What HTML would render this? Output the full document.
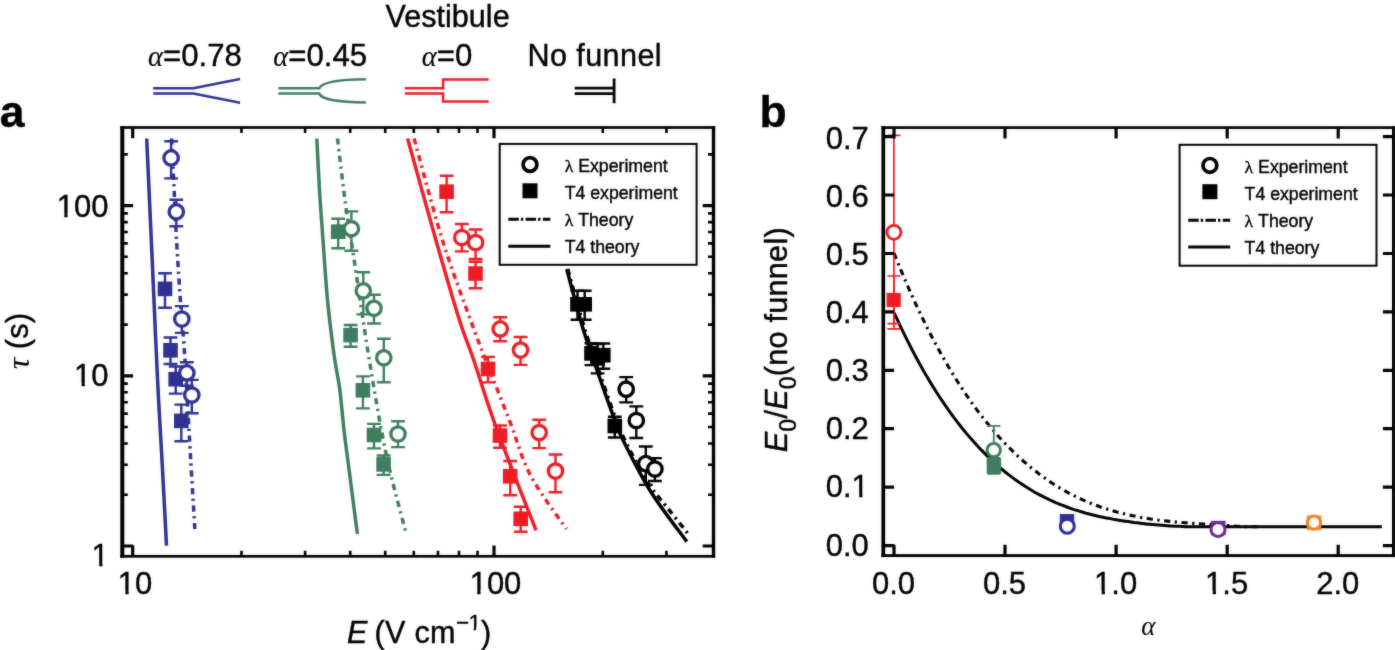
<!DOCTYPE html>
<html lang="en"><head><meta charset="utf-8"><title>Figure</title>
<style>html,body{margin:0;padding:0;background:#fff}body{width:1395px;height:650px;overflow:hidden}svg{display:block}text{white-space:pre}</style>
</head><body>
<svg width="1395" height="650" viewBox="0 0 1395 650" font-family="'Liberation Sans', Arial, Helvetica, sans-serif" fill="#000">
<defs><filter id="soft" x="0" y="0" width="100%" height="100%" filterUnits="userSpaceOnUse" color-interpolation-filters="sRGB"><feGaussianBlur stdDeviation="0.8" result="b"/><feComposite in="SourceGraphic" in2="b" operator="arithmetic" k1="0" k2="0.65" k3="0.35" k4="0"/></filter></defs>
<rect width="1395" height="650" fill="#fff"/>
<g filter="url(#soft)">
<text transform="translate(148.0,65.6) scale(1,1.0)" font-size="31.2" text-anchor="start" stroke="#000" stroke-width="0.4" ><tspan font-style="italic" font-family="'Liberation Serif', serif" font-size="28.5" stroke-width="0.15">α</tspan>=0.78</text>
<text transform="translate(273.2,65.6) scale(1,1.0)" font-size="31.2" text-anchor="start" stroke="#000" stroke-width="0.4" ><tspan font-style="italic" font-family="'Liberation Serif', serif" font-size="28.5" stroke-width="0.15">α</tspan>=0.45</text>
<text transform="translate(385.5,26.9) scale(1,1.0)" font-size="30.6" text-anchor="start" stroke="#000" stroke-width="0.4" >Vestibule</text>
<text transform="translate(421.8,65.6) scale(1,1.0)" font-size="31.2" text-anchor="start" stroke="#000" stroke-width="0.4" ><tspan font-style="italic" font-family="'Liberation Serif', serif" font-size="28.5" stroke-width="0.15">α</tspan>=0</text>
<text transform="translate(527.5,65.6) scale(1,1.0)" font-size="30.6" text-anchor="start" stroke="#000" stroke-width="0.4" letter-spacing="0.4">No funnel</text>
<path d="M153.2,88.2H193.4L240.1,79.1M153.2,93.6H193.4L240.1,102.7" fill="none" stroke="#2e3192" stroke-width="2.5"/>
<path d="M278.4,88.2H319.2C322,82.5 335,79.4 365.9,79.2M278.4,93.6H319.2C322,99.3 335,102.2 365.9,102.4" fill="none" stroke="#3f7d5f" stroke-width="2.5"/>
<path d="M404.8,88.2H443.1V79.6H488.7M404.8,93.6H443.1V101.6H488.7" fill="none" stroke="#ed1c24" stroke-width="2.5"/>
<path d="M574.7,88.2H614.1M574.7,93.6H614.1M614.1,78.5V103.2" fill="none" stroke="#000" stroke-width="2.8"/>
<text transform="translate(-0.3,126.8) scale(1,1.0)" font-size="44.5" text-anchor="start" stroke="#000" stroke-width="0.4" font-weight="bold">a</text>
<text transform="translate(759.6,126.8) scale(1,1.0)" font-size="44.5" text-anchor="start" stroke="#000" stroke-width="0.4" font-weight="bold">b</text>
<path d="M146.7,138.5 C147.5,155.4 149.8,207.2 151.3,240.0 C152.8,272.8 154.3,308.3 155.5,335.0 C156.7,361.7 157.5,379.2 158.6,400.0 C159.7,420.8 160.7,435.7 162.0,460.0 C163.3,484.3 165.8,531.4 166.5,545.7" fill="none" stroke="#2e3192" stroke-width="3.5"/>
<path d="M171.5,138.5 C171.9,146.2 173.1,168.3 173.9,184.6 C174.7,200.9 175.2,217.2 176.3,236.3 C177.4,255.4 178.9,278.4 180.3,299.0 C181.8,319.6 183.3,333.8 185.0,360.0 C186.7,386.2 188.8,427.4 190.5,456.3 C192.2,485.2 194.3,520.3 195.1,533.1" fill="none" stroke="#2e3192" stroke-width="3.5" stroke-dasharray="6.2 4.5 2.3 4.5"/>
<path d="M316.8,138.5 C317.2,147.1 318.5,173.1 319.5,190.0 C320.5,206.9 321.7,221.7 323.0,240.0 C324.3,258.3 325.8,281.7 327.5,300.0 C329.2,318.3 331.9,338.3 333.4,350.0 C334.9,361.7 335.4,363.3 336.5,370.0 C337.6,376.7 338.6,380.0 339.9,390.0 C341.1,400.0 342.5,416.7 344.0,430.0 C345.5,443.3 346.9,452.7 349.1,470.0 C351.3,487.3 356.0,523.3 357.4,534.0" fill="none" stroke="#3f7d5f" stroke-width="3.5"/>
<path d="M337.5,138.5 C338.8,149.2 342.8,184.2 345.4,203.0 C347.9,221.8 348.9,225.7 352.8,251.0 C356.7,276.3 363.0,321.3 368.5,355.0 C374.0,388.7 379.8,423.7 386.0,453.4 C392.2,483.1 402.7,519.8 406.0,533.1" fill="none" stroke="#3f7d5f" stroke-width="3.5" stroke-dasharray="6.2 4.5 2.3 4.5"/>
<path d="M407.6,138.5 C412.3,155.4 427.3,209.8 435.9,240.0 C444.5,270.2 453.1,300.0 459.4,320.0 C465.7,340.0 467.7,342.4 473.7,360.0 C479.7,377.6 485.0,396.9 495.4,425.3 C505.8,453.7 529.2,512.9 536.0,530.4" fill="none" stroke="#ed1c24" stroke-width="3.5"/>
<path d="M414.1,138.5 C418.8,155.4 433.0,209.8 442.4,240.0 C451.8,270.2 463.3,300.0 470.5,320.0 C477.7,340.0 479.2,343.3 485.7,360.0 C492.2,376.7 501.8,400.8 509.3,420.0 C516.8,439.2 521.0,457.2 530.5,475.4 C540.0,493.6 560.5,520.1 566.5,529.0" fill="none" stroke="#ed1c24" stroke-width="3.5" stroke-dasharray="6.2 4.5 2.3 4.5"/>
<path d="M566.7,269.0 C568.1,274.2 572.2,289.8 575.0,300.0 C577.8,310.2 579.6,317.8 583.4,330.0 C587.2,342.2 592.9,358.3 598.0,373.0 C603.1,387.7 609.8,406.8 614.0,418.0 C618.2,429.2 616.9,427.7 623.0,440.0 C629.1,452.3 640.2,474.8 650.8,491.7 C661.4,508.6 680.8,533.3 686.8,541.6" fill="none" stroke="#000" stroke-width="3.5"/>
<path d="M567.7,269.0 C569.1,274.2 573.4,289.8 576.3,300.0 C579.2,310.2 581.1,317.8 585.0,330.0 C588.9,342.2 594.5,358.3 599.6,373.0 C604.7,387.7 611.3,406.8 615.5,418.0 C619.7,429.2 619.7,429.7 624.8,440.0 C629.9,450.3 640.6,470.8 646.0,480.0 C651.4,489.2 653.1,490.0 657.0,495.0 C660.9,500.0 664.0,503.6 669.3,510.2 C674.6,516.8 685.5,530.5 688.7,534.6" fill="none" stroke="#000" stroke-width="3.5" stroke-dasharray="6.2 4.5 2.3 4.5"/>
<path d="M165.0,273.2V307.8M158.1,273.2H171.9M158.1,307.8H171.9" fill="none" stroke="#2e3192" stroke-width="2.4"/>
<rect x="157.7" y="281.6" width="14.6" height="14.6" fill="#2e3192"/>
<path d="M170.5,337.5V364.0M163.6,337.5H177.4M163.6,364.0H177.4" fill="none" stroke="#2e3192" stroke-width="2.4"/>
<rect x="163.2" y="343.0" width="14.6" height="14.6" fill="#2e3192"/>
<path d="M175.7,366.5V393.6M168.8,366.5H182.6M168.8,393.6H182.6" fill="none" stroke="#2e3192" stroke-width="2.4"/>
<rect x="168.4" y="371.9" width="14.6" height="14.6" fill="#2e3192"/>
<path d="M181.3,404.6V441.2M174.4,404.6H188.2M174.4,441.2H188.2" fill="none" stroke="#2e3192" stroke-width="2.4"/>
<rect x="174.0" y="413.6" width="14.6" height="14.6" fill="#2e3192"/>
<path d="M171.1,141.2V178.4M164.2,141.2H178.0M164.2,178.4H178.0" fill="none" stroke="#2e3192" stroke-width="2.4"/>
<circle cx="171.1" cy="157.9" r="7.2" fill="#fff" stroke="#2e3192" stroke-width="3.3"/>
<path d="M176.3,199.8V226.2M169.4,199.8H183.2M169.4,226.2H183.2" fill="none" stroke="#2e3192" stroke-width="2.4"/>
<circle cx="176.3" cy="211.8" r="7.2" fill="#fff" stroke="#2e3192" stroke-width="3.3"/>
<path d="M181.8,306.1V332.9M174.9,306.1H188.7M174.9,332.9H188.7" fill="none" stroke="#2e3192" stroke-width="2.4"/>
<circle cx="181.8" cy="319.0" r="7.2" fill="#fff" stroke="#2e3192" stroke-width="3.3"/>
<path d="M186.8,362.2V385.8M179.9,362.2H193.7M179.9,385.8H193.7" fill="none" stroke="#2e3192" stroke-width="2.4"/>
<circle cx="186.8" cy="372.9" r="7.2" fill="#fff" stroke="#2e3192" stroke-width="3.3"/>
<path d="M191.8,379.9V413.3M184.9,379.9H198.7M184.9,413.3H198.7" fill="none" stroke="#2e3192" stroke-width="2.4"/>
<circle cx="191.8" cy="395.0" r="7.2" fill="#fff" stroke="#2e3192" stroke-width="3.3"/>
<path d="M338.2,218.8V248.3M331.3,218.8H345.1M331.3,248.3H345.1" fill="none" stroke="#3f7d5f" stroke-width="2.4"/>
<rect x="330.9" y="224.4" width="14.6" height="14.6" fill="#3f7d5f"/>
<path d="M350.6,325.0V346.7M343.7,325.0H357.5M343.7,346.7H357.5" fill="none" stroke="#3f7d5f" stroke-width="2.4"/>
<rect x="343.3" y="327.8" width="14.6" height="14.6" fill="#3f7d5f"/>
<path d="M362.9,376.4V408.4M356.0,376.4H369.8M356.0,408.4H369.8" fill="none" stroke="#3f7d5f" stroke-width="2.4"/>
<rect x="355.6" y="383.0" width="14.6" height="14.6" fill="#3f7d5f"/>
<path d="M374.0,423.9V448.4M367.1,423.9H380.9M367.1,448.4H380.9" fill="none" stroke="#3f7d5f" stroke-width="2.4"/>
<rect x="366.7" y="427.7" width="14.6" height="14.6" fill="#3f7d5f"/>
<path d="M383.6,455.5V474.9M376.7,455.5H390.5M376.7,474.9H390.5" fill="none" stroke="#3f7d5f" stroke-width="2.4"/>
<rect x="376.3" y="457.1" width="14.6" height="14.6" fill="#3f7d5f"/>
<path d="M351.4,211.4V250.7M344.5,211.4H358.3M344.5,250.7H358.3" fill="none" stroke="#3f7d5f" stroke-width="2.4"/>
<circle cx="351.4" cy="228.7" r="7.2" fill="#fff" stroke="#3f7d5f" stroke-width="3.3"/>
<path d="M363.3,272.3V314.4M356.4,272.3H370.2M356.4,314.4H370.2" fill="none" stroke="#3f7d5f" stroke-width="2.4"/>
<circle cx="363.3" cy="290.8" r="7.2" fill="#fff" stroke="#3f7d5f" stroke-width="3.3"/>
<path d="M374.0,294.8V323.5M367.1,294.8H380.9M367.1,323.5H380.9" fill="none" stroke="#3f7d5f" stroke-width="2.4"/>
<circle cx="374.0" cy="308.3" r="7.2" fill="#fff" stroke="#3f7d5f" stroke-width="3.3"/>
<path d="M383.8,338.8V382.3M376.9,338.8H390.7M376.9,382.3H390.7" fill="none" stroke="#3f7d5f" stroke-width="2.4"/>
<circle cx="383.8" cy="357.8" r="7.2" fill="#fff" stroke="#3f7d5f" stroke-width="3.3"/>
<path d="M398.0,421.3V447.1M391.1,421.3H404.9M391.1,447.1H404.9" fill="none" stroke="#3f7d5f" stroke-width="2.4"/>
<circle cx="398.0" cy="434.0" r="7.2" fill="#fff" stroke="#3f7d5f" stroke-width="3.3"/>
<path d="M446.6,175.8V212.3M439.7,175.8H453.5M439.7,212.3H453.5" fill="none" stroke="#ed1c24" stroke-width="2.4"/>
<rect x="439.3" y="184.4" width="14.6" height="14.6" fill="#ed1c24"/>
<path d="M475.5,261.7V288.3M468.6,261.7H482.4M468.6,288.3H482.4" fill="none" stroke="#ed1c24" stroke-width="2.4"/>
<rect x="468.2" y="266.2" width="14.6" height="14.6" fill="#ed1c24"/>
<path d="M488.0,356.9V382.4M481.1,356.9H494.9M481.1,382.4H494.9" fill="none" stroke="#ed1c24" stroke-width="2.4"/>
<rect x="480.7" y="361.6" width="14.6" height="14.6" fill="#ed1c24"/>
<path d="M500.0,425.5V447.7M493.1,425.5H506.9M493.1,447.7H506.9" fill="none" stroke="#ed1c24" stroke-width="2.4"/>
<rect x="492.7" y="428.3" width="14.6" height="14.6" fill="#ed1c24"/>
<path d="M510.2,461.0V495.3M503.3,461.0H517.1M503.3,495.3H517.1" fill="none" stroke="#ed1c24" stroke-width="2.4"/>
<rect x="502.9" y="469.0" width="14.6" height="14.6" fill="#ed1c24"/>
<path d="M520.7,506.8V531.7M513.8,506.8H527.6M513.8,531.7H527.6" fill="none" stroke="#ed1c24" stroke-width="2.4"/>
<rect x="513.4" y="511.5" width="14.6" height="14.6" fill="#ed1c24"/>
<path d="M461.8,224.0V251.4M454.9,224.0H468.7M454.9,251.4H468.7" fill="none" stroke="#ed1c24" stroke-width="2.4"/>
<circle cx="461.8" cy="237.5" r="7.2" fill="#fff" stroke="#ed1c24" stroke-width="3.3"/>
<path d="M475.6,229.5V259.0M468.7,229.5H482.5M468.7,259.0H482.5" fill="none" stroke="#ed1c24" stroke-width="2.4"/>
<circle cx="475.6" cy="242.5" r="7.2" fill="#fff" stroke="#ed1c24" stroke-width="3.3"/>
<path d="M500.2,317.3V341.2M493.3,317.3H507.1M493.3,341.2H507.1" fill="none" stroke="#ed1c24" stroke-width="2.4"/>
<circle cx="500.2" cy="328.9" r="7.2" fill="#fff" stroke="#ed1c24" stroke-width="3.3"/>
<path d="M520.5,337.0V364.9M513.6,337.0H527.4M513.6,364.9H527.4" fill="none" stroke="#ed1c24" stroke-width="2.4"/>
<circle cx="520.5" cy="350.1" r="7.2" fill="#fff" stroke="#ed1c24" stroke-width="3.3"/>
<path d="M539.2,419.7V448.1M532.3,419.7H546.1M532.3,448.1H546.1" fill="none" stroke="#ed1c24" stroke-width="2.4"/>
<circle cx="539.2" cy="432.5" r="7.2" fill="#fff" stroke="#ed1c24" stroke-width="3.3"/>
<path d="M555.5,454.5V492.2M548.6,454.5H562.4M548.6,492.2H562.4" fill="none" stroke="#ed1c24" stroke-width="2.4"/>
<circle cx="555.5" cy="471.1" r="7.2" fill="#fff" stroke="#ed1c24" stroke-width="3.3"/>
<path d="M577.5,290.8V319.8M570.6,290.8H584.4M570.6,319.8H584.4" fill="none" stroke="#000" stroke-width="2.4"/>
<rect x="570.2" y="297.0" width="14.6" height="14.6" fill="#000"/>
<path d="M584.7,290.8V319.8M577.8,290.8H591.6M577.8,319.8H591.6" fill="none" stroke="#000" stroke-width="2.4"/>
<rect x="577.4" y="297.0" width="14.6" height="14.6" fill="#000"/>
<path d="M591.5,343.3V365.1M584.6,343.3H598.4M584.6,365.1H598.4" fill="none" stroke="#000" stroke-width="2.4"/>
<rect x="584.2" y="346.1" width="14.6" height="14.6" fill="#000"/>
<path d="M597.6,344.0V373.4M590.7,344.0H604.5M590.7,373.4H604.5" fill="none" stroke="#000" stroke-width="2.4"/>
<rect x="590.3" y="351.0" width="14.6" height="14.6" fill="#000"/>
<path d="M603.3,343.5V368.8M596.4,343.5H610.2M596.4,368.8H610.2" fill="none" stroke="#000" stroke-width="2.4"/>
<rect x="596.0" y="347.9" width="14.6" height="14.6" fill="#000"/>
<path d="M614.8,416.8V437.5M607.9,416.8H621.7M607.9,437.5H621.7" fill="none" stroke="#000" stroke-width="2.4"/>
<rect x="607.5" y="418.7" width="14.6" height="14.6" fill="#000"/>
<path d="M626.2,377.1V402.4M619.3,377.1H633.1M619.3,402.4H633.1" fill="none" stroke="#000" stroke-width="2.4"/>
<circle cx="626.2" cy="389.2" r="7.2" fill="#fff" stroke="#000" stroke-width="3.3"/>
<path d="M636.3,406.4V438.0M629.4,406.4H643.2M629.4,438.0H643.2" fill="none" stroke="#000" stroke-width="2.4"/>
<circle cx="636.3" cy="420.5" r="7.2" fill="#fff" stroke="#000" stroke-width="3.3"/>
<path d="M645.8,446.5V484.9M638.9,446.5H652.7M638.9,484.9H652.7" fill="none" stroke="#000" stroke-width="2.4"/>
<circle cx="645.8" cy="463.6" r="7.2" fill="#fff" stroke="#000" stroke-width="3.3"/>
<path d="M654.9,458.1V481.0M648.0,458.1H661.8M648.0,481.0H661.8" fill="none" stroke="#000" stroke-width="2.4"/>
<circle cx="654.9" cy="469.0" r="7.2" fill="#fff" stroke="#000" stroke-width="3.3"/>
<path d="M132.7,127.5v10.8M132.7,556.3v-10.8M494.0,127.5v10.8M494.0,556.3v-10.8M122.3,546.0h10.8M713.5,546.0h-10.8M122.3,375.8h10.8M713.5,375.8h-10.8M122.3,205.6h10.8M713.5,205.6h-10.8" fill="none" stroke="#000" stroke-width="3.2"/>
<path d="M241.5,127.5v5.5M241.5,556.3v-5.5M305.1,127.5v5.5M305.1,556.3v-5.5M350.2,127.5v5.5M350.2,556.3v-5.5M385.2,127.5v5.5M385.2,556.3v-5.5M413.8,127.5v5.5M413.8,556.3v-5.5M438.0,127.5v5.5M438.0,556.3v-5.5M459.0,127.5v5.5M459.0,556.3v-5.5M477.5,127.5v5.5M477.5,556.3v-5.5M602.8,127.5v5.5M602.8,556.3v-5.5M666.4,127.5v5.5M666.4,556.3v-5.5M122.3,494.8h5.5M713.5,494.8h-5.5M122.3,464.8h5.5M713.5,464.8h-5.5M122.3,443.5h5.5M713.5,443.5h-5.5M122.3,427.0h5.5M713.5,427.0h-5.5M122.3,413.6h5.5M713.5,413.6h-5.5M122.3,402.2h5.5M713.5,402.2h-5.5M122.3,392.3h5.5M713.5,392.3h-5.5M122.3,383.6h5.5M713.5,383.6h-5.5M122.3,324.6h5.5M713.5,324.6h-5.5M122.3,294.6h5.5M713.5,294.6h-5.5M122.3,273.3h5.5M713.5,273.3h-5.5M122.3,256.8h5.5M713.5,256.8h-5.5M122.3,243.4h5.5M713.5,243.4h-5.5M122.3,232.0h5.5M713.5,232.0h-5.5M122.3,222.1h5.5M713.5,222.1h-5.5M122.3,213.4h5.5M713.5,213.4h-5.5M122.3,154.4h5.5M713.5,154.4h-5.5" fill="none" stroke="#000" stroke-width="2.6"/>
<rect x="120.30" y="126.15" width="4.0" height="431.50" fill="#000"/>
<rect x="711.80" y="126.15" width="3.4" height="431.50" fill="#000"/>
<rect x="120.30" y="126.15" width="594.90" height="2.7" fill="#000"/>
<rect x="120.30" y="554.95" width="594.90" height="2.7" fill="#000"/>
<rect x="499.7" y="143.9" width="196.9" height="120.9" fill="#fff" stroke="#000" stroke-width="2"/>
<circle cx="530.0" cy="164.5" r="6.9" fill="#fff" stroke="#000" stroke-width="3.7"/>
<rect x="522.5" y="183.3" width="15.0" height="15.0" fill="#000"/>
<path d="M508.3,219.3h42" stroke="#000" stroke-width="3" stroke-dasharray="10.5 2 2.4 2.4" fill="none"/>
<path d="M508.3,246.2h42" stroke="#000" stroke-width="3" fill="none"/>
<text transform="translate(564.7,171.70000000000002) scale(1,1.0)" font-size="17.7" text-anchor="start" stroke="#000" stroke-width="0.4" ><tspan font-family="'Liberation Serif', serif">λ</tspan> Experiment</text>
<text transform="translate(564.7,198.9) scale(1,1.0)" font-size="17.7" text-anchor="start" stroke="#000" stroke-width="0.4" >T4 experiment</text>
<text transform="translate(564.7,226.3) scale(1,1.0)" font-size="17.7" text-anchor="start" stroke="#000" stroke-width="0.4" ><tspan font-family="'Liberation Serif', serif">λ</tspan> Theory</text>
<text transform="translate(564.7,253.10000000000002) scale(1,1.0)" font-size="17.7" text-anchor="start" stroke="#000" stroke-width="0.4" >T4 theory</text>
<text transform="translate(56.68,216.7) scale(1,1.0)" font-size="31" text-anchor="start" stroke="#000" stroke-width="0.4" >100</text>
<path d="M57.88,213.40H64.30V218.90H57.88ZM67.58,213.40H74.18V218.90H67.58Z" fill="#fff"/>
<text transform="translate(73.92,386.4) scale(1,1.0)" font-size="31" text-anchor="start" stroke="#000" stroke-width="0.4" >10</text>
<path d="M75.12,383.10H81.54V388.60H75.12ZM84.82,383.10H91.42V388.60H84.82Z" fill="#fff"/>
<text transform="translate(91.56,565.8) scale(1,1.0)" font-size="31" text-anchor="start" stroke="#000" stroke-width="0.4" >1</text>
<path d="M92.76,562.50H99.18V568.00H92.76ZM102.46,562.50H109.06V568.00H102.46Z" fill="#fff"/>
<text transform="translate(117.76,594.1) scale(1,1.0)" font-size="31" text-anchor="start" stroke="#000" stroke-width="0.4" >10</text>
<path d="M118.96,590.80H125.38V596.30H118.96ZM128.66,590.80H135.26V596.30H128.66Z" fill="#fff"/>
<text transform="translate(469.64,594.1) scale(1,1.0)" font-size="31" text-anchor="start" stroke="#000" stroke-width="0.4" >100</text>
<path d="M470.84,590.80H477.26V596.30H470.84ZM480.54,590.80H487.14V596.30H480.54Z" fill="#fff"/>
<text transform="translate(347.0,643.0) scale(1,1.0)" font-size="30.6" text-anchor="start" stroke="#000" stroke-width="0.4" ><tspan font-style="italic">E</tspan><tspan dx="-1.7" letter-spacing="0.3"> (V cm</tspan><tspan font-size="22.5" dy="-13.2" letter-spacing="-0.6">−1</tspan><tspan dy="13.2" dx="0.75">)</tspan></text>
<path d="M469.01,627.40H473.67V631.40H469.01ZM476.05,627.40H480.84V631.40H476.05Z" fill="#fff"/>
<text transform="translate(27.5,369.2) rotate(-90) scale(1,1.0)" font-size="31" text-anchor="start" stroke="#000" stroke-width="0.4" ><tspan font-style="italic" font-family="'Liberation Serif', serif" stroke-width="0" font-size="32" dy="1.2">τ</tspan><tspan dy="-1.2"> (s)</tspan></text>
<path d="M894.2,312.8 C895.2,314.9 898.2,321.5 900.2,325.8 C902.2,330.0 904.2,334.1 906.2,338.2 C908.2,342.2 910.2,346.1 912.2,350.0 C914.2,353.8 916.2,357.6 918.2,361.2 C920.2,364.9 922.2,368.4 924.2,371.9 C926.2,375.4 928.2,378.8 930.2,382.1 C932.2,385.4 934.2,388.6 936.2,391.7 C938.2,394.9 940.2,397.9 942.2,400.9 C944.2,403.9 946.2,406.8 948.2,409.6 C950.2,412.4 952.2,415.2 954.2,417.9 C956.2,420.6 958.2,423.2 960.2,425.7 C962.2,428.2 964.2,430.7 966.2,433.1 C968.2,435.5 970.2,437.8 972.2,440.1 C974.2,442.4 976.2,444.6 978.2,446.7 C980.2,448.9 982.2,450.9 984.2,452.9 C986.2,455.0 988.2,456.9 990.2,458.8 C992.2,460.7 994.2,462.5 996.2,464.3 C998.2,466.1 1000.2,467.8 1002.2,469.5 C1004.2,471.2 1006.2,472.8 1008.2,474.4 C1010.2,475.9 1012.2,477.4 1014.2,478.9 C1016.2,480.3 1018.2,481.8 1020.2,483.1 C1022.2,484.5 1024.2,485.8 1026.2,487.0 C1028.2,488.3 1030.2,489.5 1032.2,490.7 C1034.2,491.9 1036.2,493.0 1038.2,494.1 C1040.2,495.2 1042.2,496.2 1044.2,497.2 C1046.2,498.2 1048.2,499.2 1050.2,500.1 C1052.2,501.0 1054.2,501.9 1056.2,502.8 C1058.2,503.6 1060.2,504.5 1062.2,505.2 C1064.2,506.0 1066.2,506.8 1068.2,507.5 C1070.2,508.2 1072.2,508.9 1074.2,509.6 C1076.2,510.2 1078.2,510.8 1080.2,511.4 C1082.2,512.0 1084.2,512.6 1086.2,513.2 C1088.2,513.7 1090.2,514.2 1092.2,514.7 C1094.2,515.2 1096.2,515.7 1098.2,516.2 C1100.2,516.6 1102.2,517.0 1104.2,517.5 C1106.2,517.9 1108.2,518.3 1110.2,518.6 C1112.2,519.0 1114.2,519.4 1116.2,519.7 C1118.2,520.1 1120.2,520.4 1122.2,520.7 C1124.2,521.1 1126.2,521.4 1128.2,521.6 C1130.2,521.9 1132.2,522.2 1134.2,522.5 C1136.2,522.7 1138.2,523.0 1140.2,523.2 C1142.2,523.5 1144.2,523.7 1146.2,523.9 C1148.2,524.1 1150.2,524.3 1152.2,524.5 C1154.2,524.7 1156.2,524.9 1158.2,525.0 C1160.2,525.2 1162.2,525.4 1164.2,525.5 C1166.2,525.6 1168.2,525.8 1170.2,525.9 C1172.2,526.0 1174.2,526.1 1176.2,526.2 C1178.2,526.3 1180.2,526.4 1182.2,526.5 C1184.2,526.6 1186.2,526.7 1188.2,526.8 C1190.2,526.8 1192.2,526.8 1194.2,526.8 C1196.2,526.8 1198.2,526.8 1200.2,526.8 C1202.2,526.8 1204.2,526.8 1206.2,526.8 C1208.2,526.8 1210.2,526.8 1212.2,526.8 C1214.2,526.8 1216.2,526.8 1218.2,526.8 C1220.2,526.8 1222.2,526.8 1224.2,526.8 C1226.2,526.8 1228.2,526.8 1230.2,526.8 C1232.2,526.8 1234.2,526.8 1236.2,526.8 C1238.2,526.8 1240.2,526.8 1242.2,526.8 C1244.2,526.8 1246.2,526.8 1248.2,526.8 C1250.2,526.8 1252.2,526.8 1254.2,526.8 C1256.2,526.8 1258.2,526.8 1260.2,526.8 C1262.2,526.8 1264.2,526.8 1266.2,526.8 C1268.2,526.8 1270.2,526.8 1272.2,526.8 C1274.2,526.8 1276.2,526.8 1278.2,526.8 C1280.2,526.8 1282.2,526.8 1284.2,526.8 C1286.2,526.8 1288.2,526.8 1290.2,526.8 C1292.2,526.8 1294.2,526.8 1296.2,526.8 C1298.2,526.8 1300.2,526.8 1302.2,526.8 C1304.2,526.8 1306.2,526.8 1308.2,526.8 C1310.2,526.8 1312.2,526.8 1314.2,526.8 C1316.2,526.8 1318.2,526.8 1320.2,526.8 C1322.2,526.8 1324.2,526.8 1326.2,526.8 C1328.2,526.8 1330.2,526.8 1332.2,526.8 C1334.2,526.8 1336.2,526.8 1338.2,526.8 C1340.2,526.8 1342.2,526.8 1344.2,526.8 C1346.2,526.8 1348.2,526.8 1350.2,526.8 C1352.2,526.8 1354.2,526.8 1356.2,526.8 C1358.2,526.8 1360.2,526.8 1362.2,526.8 C1364.2,526.8 1366.2,526.8 1368.2,526.8 C1370.2,526.8 1372.2,526.8 1374.2,526.8 C1376.2,526.8 1378.9,526.8 1380.2,526.8 C1381.5,526.8 1381.6,526.8 1381.9,526.8" fill="none" stroke="#000" stroke-width="3.0"/>
<path d="M894.0,253.2 C895.0,255.7 898.0,263.2 900.0,268.0 C902.0,272.8 904.0,277.5 906.0,282.1 C908.0,286.8 910.0,291.3 912.0,295.7 C914.0,300.2 916.0,304.5 918.0,308.8 C920.0,313.0 922.0,317.2 924.0,321.2 C926.0,325.3 928.0,329.3 930.0,333.2 C932.0,337.1 934.0,340.9 936.0,344.6 C938.0,348.3 940.0,352.0 942.0,355.5 C944.0,359.1 946.0,362.6 948.0,366.0 C950.0,369.4 952.0,372.7 954.0,375.9 C956.0,379.2 958.0,382.3 960.0,385.4 C962.0,388.5 964.0,391.5 966.0,394.5 C968.0,397.4 970.0,400.3 972.0,403.1 C974.0,405.9 976.0,408.6 978.0,411.3 C980.0,413.9 982.0,416.5 984.0,419.1 C986.0,421.6 988.0,424.1 990.0,426.5 C992.0,428.9 994.0,431.2 996.0,433.5 C998.0,435.8 1000.0,438.0 1002.0,440.2 C1004.0,442.3 1006.0,444.4 1008.0,446.5 C1010.0,448.5 1012.0,450.5 1014.0,452.4 C1016.0,454.4 1018.0,456.3 1020.0,458.1 C1022.0,459.9 1024.0,461.7 1026.0,463.4 C1028.0,465.1 1030.0,466.8 1032.0,468.4 C1034.0,470.1 1036.0,471.6 1038.0,473.1 C1040.0,474.7 1042.0,476.2 1044.0,477.6 C1046.0,479.0 1048.0,480.4 1050.0,481.7 C1052.0,483.1 1054.0,484.4 1056.0,485.6 C1058.0,486.9 1060.0,488.1 1062.0,489.2 C1064.0,490.4 1066.0,491.5 1068.0,492.6 C1070.0,493.7 1072.0,494.7 1074.0,495.7 C1076.0,496.7 1078.0,497.7 1080.0,498.6 C1082.0,499.6 1084.0,500.4 1086.0,501.3 C1088.0,502.2 1090.0,503.0 1092.0,503.8 C1094.0,504.6 1096.0,505.3 1098.0,506.0 C1100.0,506.8 1102.0,507.5 1104.0,508.1 C1106.0,508.8 1108.0,509.4 1110.0,510.0 C1112.0,510.6 1114.0,511.2 1116.0,511.8 C1118.0,512.3 1120.0,512.8 1122.0,513.3 C1124.0,513.8 1126.0,514.3 1128.0,514.8 C1130.0,515.2 1132.0,515.6 1134.0,516.0 C1136.0,516.4 1138.0,516.8 1140.0,517.2 C1142.0,517.6 1144.0,517.9 1146.0,518.2 C1148.0,518.6 1150.0,518.9 1152.0,519.2 C1154.0,519.5 1156.0,519.7 1158.0,520.0 C1160.0,520.2 1162.0,520.5 1164.0,520.7 C1166.0,521.0 1168.0,521.2 1170.0,521.4 C1172.0,521.6 1174.0,521.8 1176.0,522.0 C1178.0,522.1 1180.0,522.3 1182.0,522.5 C1184.0,522.7 1186.0,522.8 1188.0,523.0 C1190.0,523.1 1192.0,523.3 1194.0,523.4 C1196.0,523.5 1198.0,523.7 1200.0,523.8 C1202.0,523.9 1204.0,524.1 1206.0,524.2 C1208.0,524.3 1210.0,524.4 1212.0,524.6 C1214.0,524.7 1216.0,524.8 1218.0,524.9 C1220.0,525.1 1222.0,525.2 1224.0,525.3 C1226.0,525.5 1228.0,525.6 1230.0,525.7 C1232.0,525.9 1234.0,526.0 1236.0,526.2 C1238.0,526.3 1240.0,526.6 1242.0,526.6 C1244.0,526.7 1246.0,526.7 1248.0,526.8 C1250.0,526.8 1252.3,526.8 1254.0,526.8 C1255.7,526.8 1257.3,526.8 1258.0,526.8" fill="none" stroke="#000" stroke-width="3.1" stroke-dasharray="6.2 4.5 2.3 4.5"/>
<path d="M893.9,135.4V328.8M887.4,135.4H900.4M887.4,328.8H900.4" fill="none" stroke="#ed1c24" stroke-width="1.7"/>
<path d="M893.9,276.0V323.6M887.4,276.0H900.4M887.4,323.6H900.4" fill="none" stroke="#ed1c24" stroke-width="1.7"/>
<rect x="886.6" y="292.9" width="14.2" height="14.2" fill="#ed1c24"/>
<circle cx="893.9" cy="232.3" r="7.0" fill="#fff" stroke="#ed1c24" stroke-width="2.8"/>
<path d="M993.8,425.8V470.0M987.2,425.8H1000.4M987.2,470.0H1000.4" fill="none" stroke="#3f7d5f" stroke-width="1.8"/>
<rect x="986.7" y="457" width="14.4" height="17.7" rx="2" fill="#3f7d5f"/>
<circle cx="993.8" cy="450.1" r="6.7" fill="#fff" stroke="#3f7d5f" stroke-width="2.9"/>
<rect x="1059.8" y="514.0" width="14.4" height="14.4" fill="#2e3192"/>
<circle cx="1067.3" cy="526.2" r="7.0" fill="#fff" stroke="#2e3192" stroke-width="3.1"/>
<rect x="1211.1" y="520.8" width="14.4" height="14.4" fill="#662d91"/>
<circle cx="1218.0" cy="529.4" r="7.0" fill="#fff" stroke="#662d91" stroke-width="3.0"/>
<rect x="1306.8" y="515.5" width="14.4" height="14.4" fill="#f5821f"/>
<circle cx="1314.0" cy="522.7" r="6.6" fill="#fff" stroke="#f5821f" stroke-width="3.0"/>
<path d="M894.0,127.6v10.8M894.0,555.6v-10.8M1005.0,127.6v10.8M1005.0,555.6v-10.8M1116.1,127.6v10.8M1116.1,555.6v-10.8M1227.2,127.6v10.8M1227.2,555.6v-10.8M1338.2,127.6v10.8M1338.2,555.6v-10.8M883.3,545.6h10.8M1393.7,545.6h-10.8M883.3,487.2h10.8M1393.7,487.2h-10.8M883.3,428.7h10.8M1393.7,428.7h-10.8M883.3,370.3h10.8M1393.7,370.3h-10.8M883.3,311.9h10.8M1393.7,311.9h-10.8M883.3,253.5h10.8M1393.7,253.5h-10.8M883.3,195.0h10.8M1393.7,195.0h-10.8M883.3,136.6h10.8M1393.7,136.6h-10.8" fill="none" stroke="#000" stroke-width="3.2"/>
<rect x="881.45" y="126.25" width="3.7" height="430.80" fill="#000"/>
<rect x="1392.00" y="126.25" width="3.4" height="430.80" fill="#000"/>
<rect x="881.45" y="126.25" width="513.95" height="2.7" fill="#000"/>
<rect x="881.45" y="554.15" width="513.95" height="2.9" fill="#000"/>
<rect x="1179.6" y="144.8" width="196.9" height="120.9" fill="#fff" stroke="#000" stroke-width="2"/>
<circle cx="1209.9" cy="165.4" r="6.9" fill="#fff" stroke="#000" stroke-width="3.7"/>
<rect x="1202.4" y="184.2" width="15.0" height="15.0" fill="#000"/>
<path d="M1188.1999999999998,220.20000000000002h42" stroke="#000" stroke-width="3" stroke-dasharray="10.5 2 2.4 2.4" fill="none"/>
<path d="M1188.1999999999998,247.10000000000002h42" stroke="#000" stroke-width="3" fill="none"/>
<text transform="translate(1244.6,172.60000000000002) scale(1,1.0)" font-size="17.7" text-anchor="start" stroke="#000" stroke-width="0.4" ><tspan font-family="'Liberation Serif', serif">λ</tspan> Experiment</text>
<text transform="translate(1244.6,199.8) scale(1,1.0)" font-size="17.7" text-anchor="start" stroke="#000" stroke-width="0.4" >T4 experiment</text>
<text transform="translate(1244.6,227.20000000000002) scale(1,1.0)" font-size="17.7" text-anchor="start" stroke="#000" stroke-width="0.4" ><tspan font-family="'Liberation Serif', serif">λ</tspan> Theory</text>
<text transform="translate(1244.6,254.0) scale(1,1.0)" font-size="17.7" text-anchor="start" stroke="#000" stroke-width="0.4" >T4 theory</text>
<text transform="translate(825.71,555.5) scale(1,1.0)" font-size="31" text-anchor="start" stroke="#000" stroke-width="0.4" >0.0</text>
<text transform="translate(825.71,497.40999999999997) scale(1,1.0)" font-size="31" text-anchor="start" stroke="#000" stroke-width="0.4" >0.1</text>
<path d="M852.76,494.11H859.18V499.61H852.76ZM862.46,494.11H869.06V499.61H862.46Z" fill="#fff"/>
<text transform="translate(825.71,439.32) scale(1,1.0)" font-size="31" text-anchor="start" stroke="#000" stroke-width="0.4" >0.2</text>
<text transform="translate(825.71,381.23) scale(1,1.0)" font-size="31" text-anchor="start" stroke="#000" stroke-width="0.4" >0.3</text>
<text transform="translate(825.71,323.14) scale(1,1.0)" font-size="31" text-anchor="start" stroke="#000" stroke-width="0.4" >0.4</text>
<text transform="translate(825.71,265.04999999999995) scale(1,1.0)" font-size="31" text-anchor="start" stroke="#000" stroke-width="0.4" >0.5</text>
<text transform="translate(825.71,206.95999999999998) scale(1,1.0)" font-size="31" text-anchor="start" stroke="#000" stroke-width="0.4" >0.6</text>
<text transform="translate(825.71,148.87) scale(1,1.0)" font-size="31" text-anchor="start" stroke="#000" stroke-width="0.4" >0.7</text>
<text transform="translate(871.95,594.1) scale(1,1.0)" font-size="31" text-anchor="start" stroke="#000" stroke-width="0.4" >0.0</text>
<text transform="translate(983.0,594.1) scale(1,1.0)" font-size="31" text-anchor="start" stroke="#000" stroke-width="0.4" >0.5</text>
<text transform="translate(1094.05,594.1) scale(1,1.0)" font-size="31" text-anchor="start" stroke="#000" stroke-width="0.4" >1.0</text>
<path d="M1095.25,590.80H1101.67V596.30H1095.25ZM1104.95,590.80H1111.55V596.30H1104.95Z" fill="#fff"/>
<text transform="translate(1205.1,594.1) scale(1,1.0)" font-size="31" text-anchor="start" stroke="#000" stroke-width="0.4" >1.5</text>
<path d="M1206.30,590.80H1212.72V596.30H1206.30ZM1216.00,590.80H1222.60V596.30H1216.00Z" fill="#fff"/>
<text transform="translate(1316.15,594.1) scale(1,1.0)" font-size="31" text-anchor="start" stroke="#000" stroke-width="0.4" >2.0</text>
<text transform="translate(787.4,452.3) rotate(-90) scale(1,1.0)" font-size="30.6" text-anchor="start" stroke="#000" stroke-width="0.4" letter-spacing="0.25"><tspan font-style="italic">E</tspan><tspan font-size="23" dy="9">0</tspan><tspan dy="-9">/</tspan><tspan font-style="italic">E</tspan><tspan font-size="23" dy="9">0</tspan><tspan dy="-9">(no funnel)</tspan></text>
<text transform="translate(1148.3,635.0) scale(1,1.0)" font-size="26" text-anchor="middle" stroke="#000" stroke-width="0.4" ><tspan font-style="italic" font-family="'Liberation Serif', serif" font-size="27" stroke-width="0">α</tspan></text>
</g>
</svg>
</body></html>
